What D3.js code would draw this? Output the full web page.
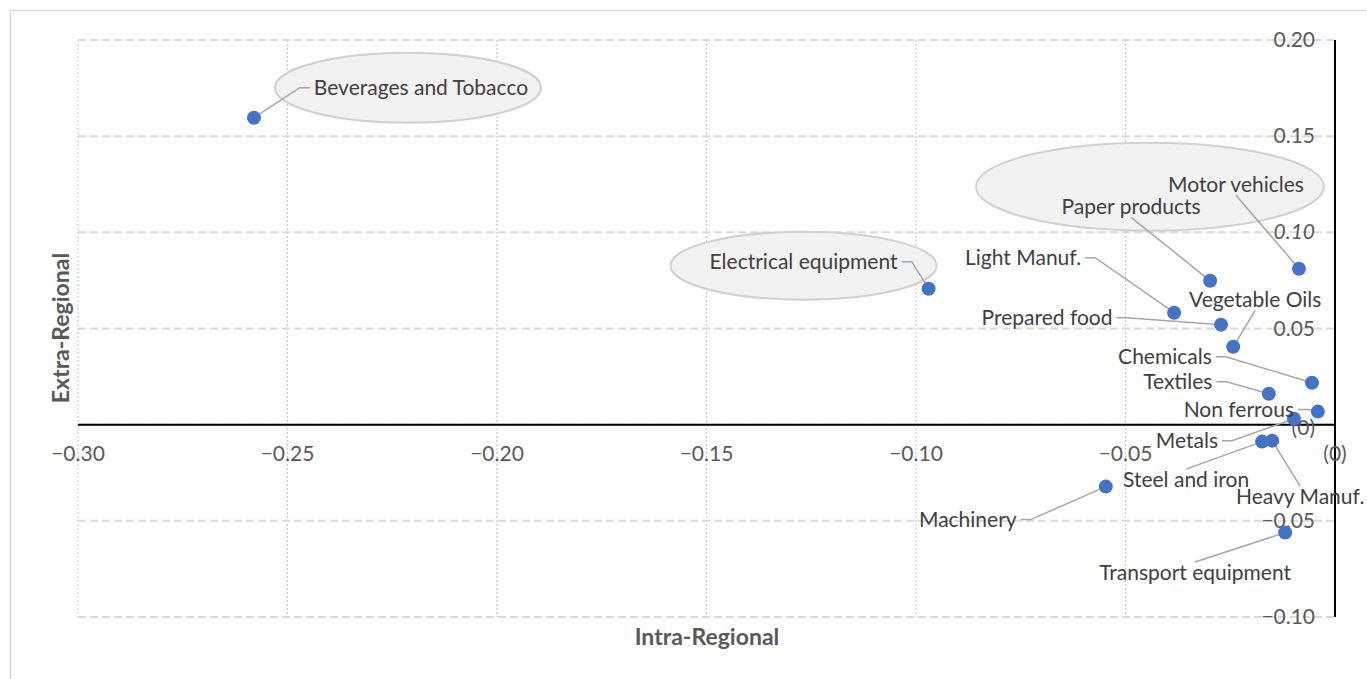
<!DOCTYPE html>
<html><head><meta charset="utf-8">
<script src="https://cdn.jsdelivr.net/npm/d3@7"></script>
<style>body{margin:0;background:#fff}svg{display:block}text{font-family:Lato,"Open Sans",sans-serif}</style>
</head><body><svg id="c" width="1367" height="679"></svg>
<script>
// ---- data ----
const categories = ["Beverages and Tobacco","Electrical equipment","Motor vehicles","Paper products","Light Manuf.","Prepared food","Vegetable Oils","Chemicals","Textiles","Non ferrous","Metals","Steel and iron","Heavy Manuf.","Machinery","Transport equipment"];
const intraRegional = [-0.258,-0.097,-0.0086,-0.0298,-0.0384,-0.0272,-0.0243,-0.0055,-0.0158,-0.0041,-0.0098,-0.0174,-0.015,-0.0547,-0.0119];
const extraRegional = [0.1596,0.0707,0.0811,0.0748,0.0582,0.052,0.0405,0.0218,0.0161,0.0068,0.0031,-0.0088,-0.0083,-0.0322,-0.0561];
const xTicks = [-0.30,-0.25,-0.20,-0.15,-0.10,-0.05,0];
const yTicks = [-0.10,-0.05,0,0.05,0.10,0.15,0.20];
const xTitle = "Intra-Regional", yTitle = "Extra-Regional";

// ---- label layout (pixel offsets from point to label centre) ----
const labelOffsets = [[167,-30],[-125,-27],[-63,-84],[-79,-74],[-151,-55],[-174,-7],[22,-47],[-147,-26],[-91,-12],[-79,-2],[-107,22],[-76,38],[28,56],[-138,33],[-90,40]];
// ellipse callouts: index -> [dx from label centre, dy, rx, ry]
const callouts = {0:[-13,0,133,35],1:[0,4,133,34],2:[-86,2,174,44]};

const svg = d3.select("#c");
svg.append("rect").attr("x",10.5).attr("y",10.5).attr("width",1380).attr("height",700).attr("fill","#fff").attr("stroke","#d9d9d9").attr("stroke-width",1.5);

const x = d3.scaleLinear().domain([-0.30,0]).range([78,1335]);
const y = d3.scaleLinear().domain([-0.10,0.20]).range([617,40]);
const fmt = v => Math.abs(v)<1e-9 ? "(0)" : d3.format(".2f")(v);

// gridlines
svg.append("g").selectAll("line").data(xTicks.filter(t=>t<0)).join("line")
  .attr("x1",d=>x(d)).attr("x2",d=>x(d)).attr("y1",y(0.20)).attr("y2",y(-0.10))
  .attr("stroke","#c8c8c8").attr("stroke-width",1.2).attr("stroke-dasharray","2,2");
svg.append("g").selectAll("line").data(yTicks).join("line")
  .attr("x1",x(-0.30)).attr("x2",x(0)).attr("y1",d=>y(d)).attr("y2",d=>y(d))
  .attr("stroke","#d9d9d9").attr("stroke-width",2).attr("stroke-dasharray","8,4");

// axes (zero lines)
svg.append("line").attr("x1",x(-0.30)).attr("x2",x(0)).attr("y1",y(0)).attr("y2",y(0)).attr("stroke","#000").attr("stroke-width",2);
svg.append("line").attr("x1",x(0)).attr("x2",x(0)).attr("y1",y(0.20)).attr("y2",y(-0.10)).attr("stroke","#000").attr("stroke-width",2);

// tick labels
svg.append("g").selectAll("text").data(xTicks).join("text")
  .attr("x",d=>x(d)).attr("y",y(0)+36).attr("text-anchor","middle")
  .attr("font-size",21).attr("fill","#595959").text(fmt);
svg.append("g").selectAll("text").data(yTicks).join("text")
  .attr("x",x(0)-20).attr("y",d=>y(d)+(d===0?10:7)).attr("text-anchor","end")
  .attr("font-size",21).attr("fill","#595959")
  .attr("font-style",d=>Math.abs(d-0.10)<1e-9?"italic":"normal").text(fmt);

// titles
svg.append("text").attr("x",707).attr("y",645).attr("text-anchor","middle").attr("font-size",23).attr("font-weight","bold").attr("fill","#595959").text(xTitle);
svg.append("text").attr("transform","translate(69,328) rotate(-90)").attr("text-anchor","middle").attr("font-size",23).attr("font-weight","bold").attr("fill","#595959").text(yTitle);

// data
const pts = categories.map((c,i)=>({c,i,px:x(intraRegional[i]),py:y(extraRegional[i]),lx:x(intraRegional[i])+labelOffsets[i][0],ly:y(extraRegional[i])+labelOffsets[i][1]}));

const gEll = svg.append("g"), gLead = svg.append("g"), gPts = svg.append("g"), gLab = svg.append("g");
pts.forEach(p=>{
  const co = callouts[p.i];
  if(co) gEll.append("ellipse").attr("cx",p.lx+co[0]).attr("cy",p.ly+co[1]).attr("rx",co[2]).attr("ry",co[3]).attr("fill","#f2f2f2").attr("stroke","#d0d0d0").attr("stroke-width",2);
});
gPts.selectAll("circle").data(pts).join("circle").attr("cx",d=>d.px).attr("cy",d=>d.py).attr("r",7).attr("fill","#4472c4");
const labs = gLab.selectAll("text").data(pts).join("text").attr("x",d=>d.lx).attr("y",d=>d.ly+7).attr("text-anchor","middle").attr("font-size",21).attr("fill","#404040").text(d=>d.c);
labs.each(function(d){
  const b = this.getBBox();
  const hw=b.width/2, hh=b.height/2;
  const dx=d.px-d.lx, dy=d.py-d.ly;
  let path;
  if(Math.abs(dx)-hw > Math.abs(dy)-hh){
    const s = Math.sign(dx);
    const ex = d.lx + s*(hw+4), stub = ex + s*10;
    path = `M${ex},${d.ly}L${stub},${d.ly}L${d.px},${d.py}`;
  } else {
    const s = Math.sign(dy);
    path = `M${d.lx},${d.ly+s*(hh-2)}L${d.px},${d.py}`;
  }
  gLead.append("path").attr("d",path).attr("fill","none").attr("stroke","#a6a6a6").attr("stroke-width",1.5);
});
</script></body></html>
